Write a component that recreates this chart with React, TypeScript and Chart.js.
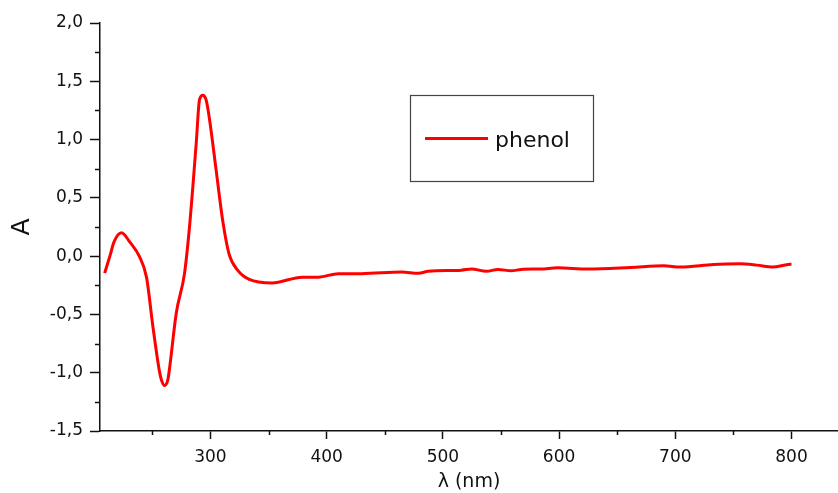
import React, { useEffect, useRef } from "react";
import { Chart, registerables } from "chart.js";

Chart.register(...registerables);

// Spectrum data (wavelength in nm, absorbance A)
const wavelength = [
  209, 213.5, 217, 223.5, 230.7, 239, 245, 250.6, 256, 257.8, 260.6, 263.4, 265, 270.6,
  277.7, 282, 287.8, 290.6, 293.4, 296.3, 299, 304.9, 310.5, 316, 323.4, 333.4, 353,
  379, 393, 410, 430, 464.7, 479, 487.5, 516, 524.6, 537.4, 547.4, 558.8, 567.4, 584.5,
  598.8, 624.5, 661.6, 690, 704.4, 733, 755.7, 770, 784, 797, 800,
];
const absorbance = [
  -0.146, 0.0, 0.12, 0.2, 0.12, -0.005, -0.18, -0.61, -0.98, -1.06, -1.11, -1.06, -0.95,
  -0.49, -0.15, 0.25, 0.97, 1.34, 1.38, 1.34, 1.19, 0.74, 0.31, 0.02, -0.12, -0.2, -0.23,
  -0.18, -0.18, -0.15, -0.15, -0.137, -0.146, -0.13, -0.12, -0.11, -0.13, -0.114, -0.126,
  -0.114, -0.11, -0.1, -0.11, -0.097, -0.083, -0.094, -0.071, -0.066, -0.077, -0.094,
  -0.071, -0.07,
];
const seriesLabel = "phenol";

const xMajorTicks = [300, 400, 500, 600, 700, 800];
const xMinorTicks = [250, 350, 450, 550, 650, 750];
const yMajorTicks = [-1.5, -1.0, -0.5, 0.0, 0.5, 1.0, 1.5, 2.0];
const yMinorTicks = [-1.25, -0.75, -0.25, 0.25, 0.75, 1.25, 1.75];

const FONT = "'DejaVu Sans', 'Liberation Sans', Arial, sans-serif";

const minorTicksPlugin = {
  id: "minorTicks",
  afterDraw(chart: any) {
    const ctx = chart.ctx;
    const xs = chart.scales.x;
    const ys = chart.scales.y;
    ctx.save();
    ctx.strokeStyle = "#111";
    ctx.lineWidth = 1.5;
    ctx.beginPath();
    for (const v of xMinorTicks) {
      const px = Math.round(xs.getPixelForValue(v)) + 0.5;
      ctx.moveTo(px, xs.top);
      ctx.lineTo(px, xs.top + 4);
    }
    for (const v of yMinorTicks) {
      const py = Math.round(ys.getPixelForValue(v)) + 0.5;
      ctx.moveTo(ys.right, py);
      ctx.lineTo(ys.right - 5, py);
    }
    ctx.stroke();
    ctx.restore();
  },
};

const legendBoxPlugin = {
  id: "legendBox",
  afterDraw(chart: any) {
    const ctx = chart.ctx;
    const ds = chart.data.datasets[0];
    ctx.save();
    ctx.strokeStyle = "#444";
    ctx.lineWidth = 1.2;
    ctx.strokeRect(410.5, 95.5, 183, 86);
    ctx.strokeStyle = ds.borderColor;
    ctx.lineWidth = 3;
    ctx.beginPath();
    ctx.moveTo(425, 138.5);
    ctx.lineTo(488, 138.5);
    ctx.stroke();
    ctx.fillStyle = "#111";
    ctx.font = `22px ${FONT}`;
    ctx.textBaseline = "alphabetic";
    ctx.textAlign = "left";
    ctx.fillText(ds.label, 495, 147);
    ctx.restore();
  },
};

export default function App() {
  const canvasRef = useRef<HTMLCanvasElement | null>(null);

  useEffect(() => {
    if (!canvasRef.current) return;
    const chart = new Chart(canvasRef.current, {
      type: "line",
      data: {
        datasets: [
          {
            label: seriesLabel,
            data: wavelength.map((w, i) => ({ x: w, y: absorbance[i] })),
            borderColor: "#ff0000",
            backgroundColor: "#ff0000",
            borderWidth: 3,
            pointRadius: 0,
            cubicInterpolationMode: "monotone",
            fill: false,
          },
        ],
      },
      options: {
        responsive: false,
        animation: false,
        layout: { padding: { top: 23, right: 0, left: 0, bottom: 0 } },
        plugins: {
          legend: { display: false },
          tooltip: { enabled: false },
        },
        scales: {
          x: {
            type: "linear",
            min: 205,
            max: 840,
            afterBuildTicks: (scale: any) => {
              scale.ticks = xMajorTicks.map((v) => ({ value: v }));
            },
            afterFit: (scale: any) => {
              scale.height = 62;
            },
            grid: {
              drawOnChartArea: false,
              drawTicks: true,
              tickLength: 8,
              tickWidth: 1.5,
              tickColor: "#111",
            },
            border: { display: true, color: "#111", width: 1.5 },
            ticks: {
              autoSkip: false,
              maxRotation: 0,
              padding: 8,
              color: "#111",
              font: { family: FONT, size: 17 },
              callback: (v: any) => String(v),
            },
            title: {
              display: true,
              text: "λ (nm)",
              color: "#111",
              font: { family: FONT, size: 19, lineHeight: 1 },
              padding: { top: 0, bottom: 1 },
            },
          },
          y: {
            type: "linear",
            min: -1.5,
            max: 2.0,
            afterBuildTicks: (scale: any) => {
              scale.ticks = yMajorTicks.map((v) => ({ value: v }));
            },
            afterFit: (scale: any) => {
              scale.width = 100;
            },
            grid: {
              drawOnChartArea: false,
              drawTicks: true,
              tickLength: 10,
              tickWidth: 1.5,
              tickColor: "#111",
            },
            border: { display: true, color: "#111", width: 1.5 },
            ticks: {
              autoSkip: false,
              padding: 7,
              color: "#111",
              font: { family: FONT, size: 17 },
              callback: (v: any) => Number(v).toFixed(1).replace(".", ","),
            },
            title: {
              display: true,
              text: "A",
              color: "#111",
              font: { family: FONT, size: 25, lineHeight: 1 },
              padding: { top: 10, bottom: 0 },
            },
          },
        },
      },
      plugins: [minorTicksPlugin, legendBoxPlugin],
    } as any);
    return () => chart.destroy();
  }, []);

  return (
    <div style={{ position: "absolute", left: 0, top: 0, width: 838, height: 493, background: "#fff" }}>
      <canvas ref={canvasRef} width={838} height={493} style={{ display: "block" }} />
    </div>
  );
}
